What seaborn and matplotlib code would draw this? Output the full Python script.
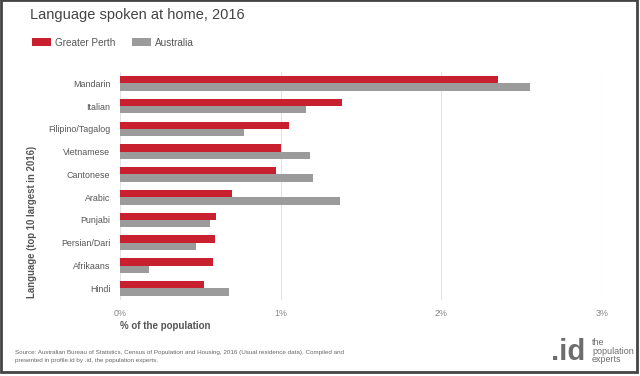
import pandas as pd
import matplotlib.pyplot as plt
import seaborn as sns
from matplotlib.patches import Rectangle

# Share of population speaking each language at home, 2016 (%)
languages = ["Mandarin", "Italian", "Filipino/Tagalog", "Vietnamese", "Cantonese",
             "Arabic", "Punjabi", "Persian/Dari", "Afrikaans", "Hindi"]
greater_perth = [2.35, 1.38, 1.05, 1.00, 0.97, 0.70, 0.60, 0.59, 0.58, 0.52]
australia = [2.55, 1.16, 0.77, 1.18, 1.20, 1.37, 0.56, 0.47, 0.18, 0.68]
areas = ["Greater Perth", "Australia"]
x_ticks = [0, 1, 2, 3]
x_ticklabels = ["0%", "1%", "2%", "3%"]

df = pd.DataFrame({"Language": languages,
                   "Greater Perth": greater_perth,
                   "Australia": australia})
long_df = df.melt(id_vars="Language", var_name="Area", value_name="Share")

sns.set_style("white")
plt.rcParams["font.family"] = ["Liberation Sans", "DejaVu Sans"]

fig = plt.figure(figsize=(6.4, 3.76), dpi=100)
ax = fig.add_axes([0.1875, 0.203, 0.753, 0.6055])

sns.barplot(data=long_df, y="Language", x="Share", hue="Area", hue_order=areas,
            order=languages, orient="h", width=0.64, saturation=1, linewidth=0,
            palette={"Greater Perth": "#c8202f", "Australia": "#9b9b9b"}, ax=ax)

ax.set_xlim(0, 3)
ax.set_xticks(x_ticks)
ax.set_xticklabels(x_ticklabels)
ax.grid(axis="x", color="#e3e3e3", linewidth=0.8)
ax.set_axisbelow(True)
for s in ax.spines.values():
    s.set_visible(False)
ax.tick_params(axis="y", length=4, color="#cccccc", width=0.8, labelsize=6.4,
               labelcolor="#555555", pad=3)
ax.tick_params(axis="x", length=0, labelsize=6.4, labelcolor="#888888", pad=7)

# the axis title sits low, not centred on the axis
ax.set_ylabel("Language (top 10 largest in 2016)", fontsize=6.9, fontweight="bold",
              color="#555555")
ax.yaxis.set_label_coords(-0.172, 0.343)
ax.set_xlabel("")
fig.text(120 / 640, 1 - 326 / 376, "% of the population", fontsize=7,
         fontweight="bold", color="#555555", va="center", ha="left")

handles, labels = ax.get_legend_handles_labels()
ax.get_legend().remove()
fig.legend(handles, labels, loc="center left", bbox_to_anchor=(32 / 640, 1 - 42.5 / 376),
           ncol=2, frameon=False, fontsize=7.2, handlelength=1.9, handleheight=0.9,
           columnspacing=1.7, handletextpad=0.4, borderpad=0, borderaxespad=0,
           labelcolor="#555555")

fig.text(30 / 640, 1 - 15 / 376, "Language spoken at home, 2016", fontsize=10.5,
         color="#444444", va="center", ha="left")

fig.text(15 / 640, 1 - 356.5 / 376,
         "Source: Australian Bureau of Statistics, Census of Population and Housing, 2016 "
         "(Usual residence data). Compiled and\npresented in profile.id by .id, the population experts.",
         fontsize=4.5, color="#666666", va="center", ha="left", linespacing=1.6)

fig.text(585 / 640, 1 - 352 / 376, ".id", fontsize=21, fontweight="bold",
         color="#6d6d6d", va="center", ha="right")
fig.text(592 / 640, 1 - 351 / 376, "the\npopulation\nexperts", fontsize=6.5,
         color="#6d6d6d", va="center", ha="left", linespacing=0.9)

fig.patches.append(Rectangle((1 / 640, 1 - 372 / 376), 636 / 640, 372 / 376,
                             transform=fig.transFigure, fill=False,
                             edgecolor="#444444", linewidth=2))

fig.savefig("out.png", dpi=100)
